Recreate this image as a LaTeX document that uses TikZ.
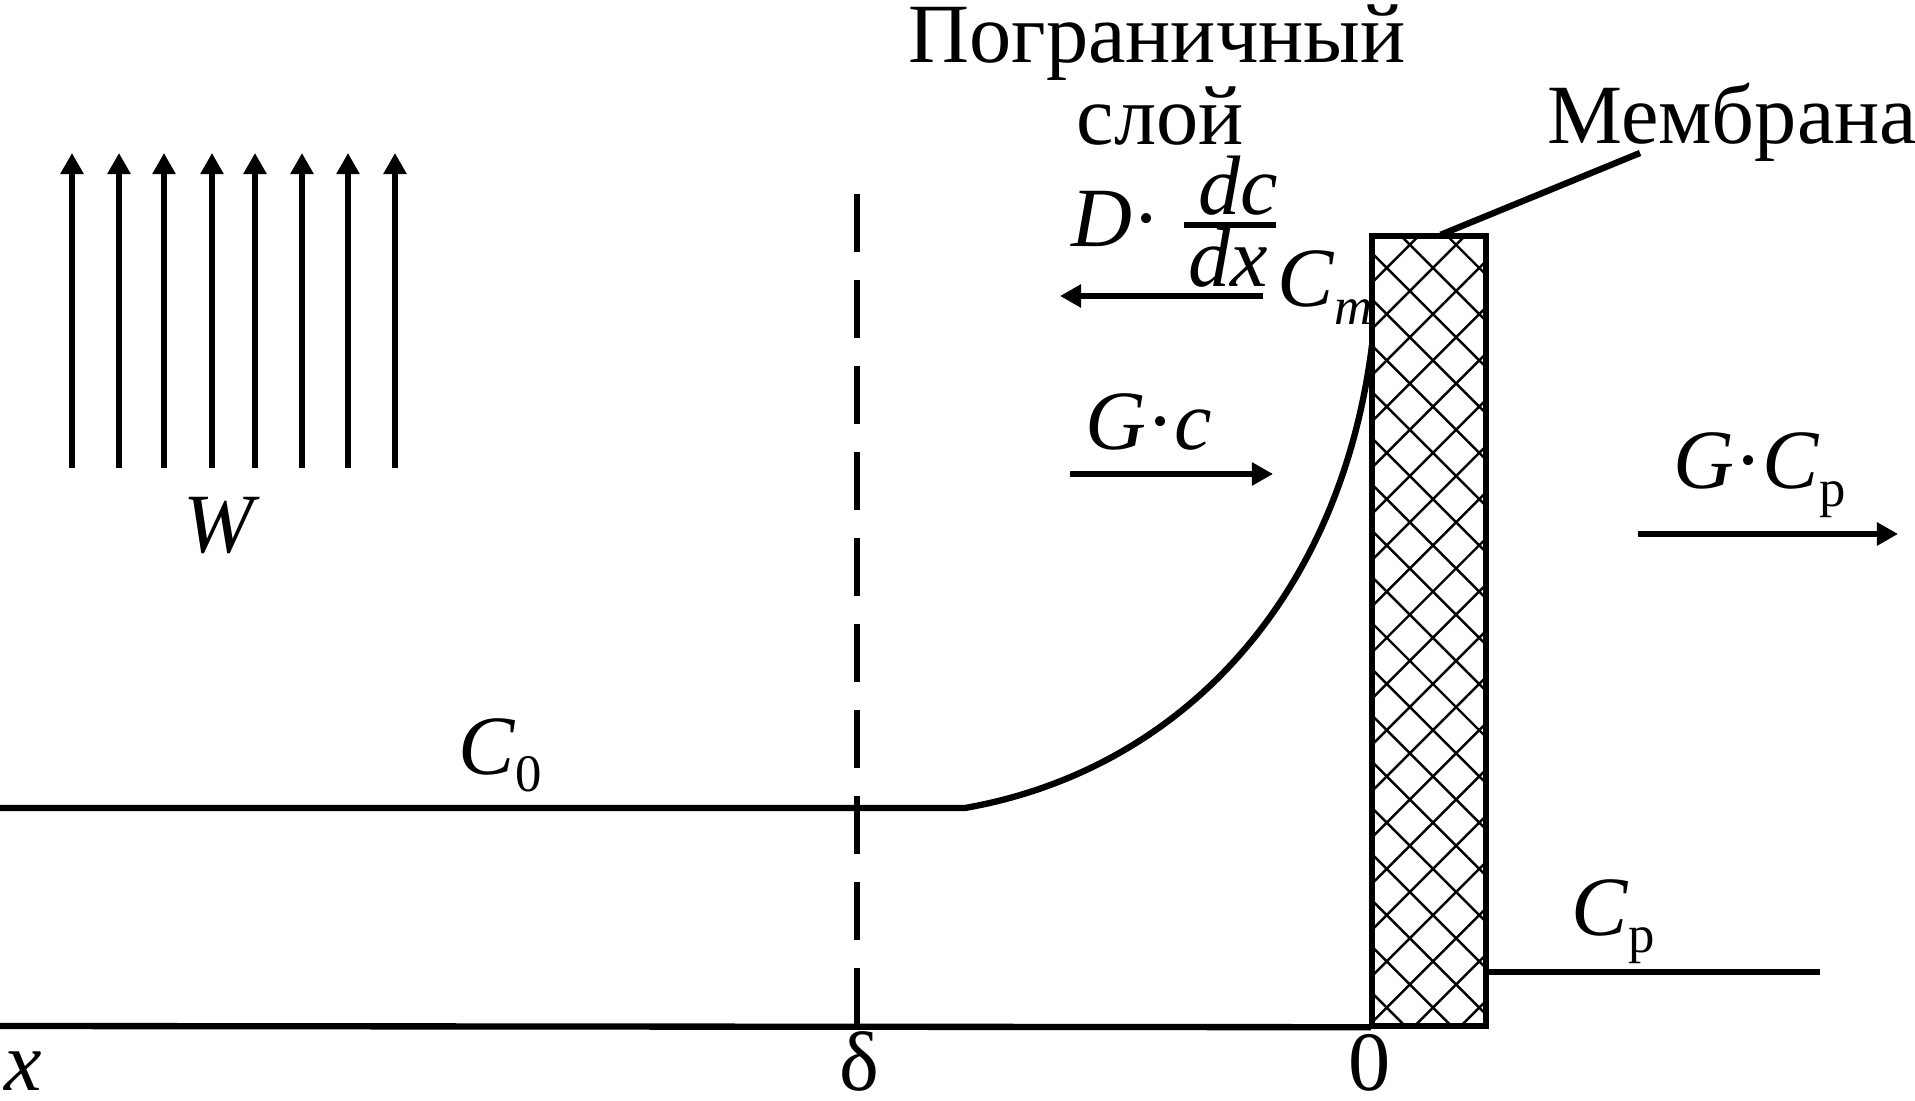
\documentclass[tikz,border=0pt]{standalone}
\usepackage{fontspec}
\setmainfont{Liberation Serif}
\usetikzlibrary{arrows.meta,patterns.meta,calc}
\newcommand{\lowsub}[1]{\raisebox{-5pt}{\fontsize{15}{18}\selectfont #1}}

\begin{document}
\begin{tikzpicture}[>={Triangle[length=6pt,width=6.3pt]}, line width=1.8pt]
\tikzstyle{txt} = [inner sep=0pt, font=\fontsize{24}{28}\selectfont]
\tikzstyle{wall} = [draw, rectangle, inner sep=0pt, minimum width=1.14cm, minimum height=7.9cm, pattern={Hatch[angle=45,distance=9.3pt,line width=0.7pt]}]
\tikzstyle{bound} = [dash pattern=on 0.58cm off 0.28cm]
\tikzstyle{flow} = [->, line width=1.6pt]

\useasboundingbox (0,0) rectangle (19.15,11);

% membrane and concentration profile
\node[wall] (membrane) at (14.29,4.69) {};
\coordinate (xaxis) at (0,0.74);
\coordinate (c0a) at (0,2.92);
\coordinate (c0b) at (9.65,2.92);
\coordinate (cmtop) at (13.72,7.55);
\coordinate (cpend) at (18.20,1.28);
\draw (xaxis) -- (membrane.south west);
\draw (c0a) -- (c0b) .. controls (11.80,3.30) and (13.40,5.00) .. (cmtop);
\draw (membrane.east |- cpend) -- (cpend);

% boundary layer edge
\coordinate (dbot) at (8.57,0.74);
\coordinate (dtop) at (8.57,9.17);
\draw[bound] (dbot) -- (dtop);

% velocity W
\coordinate (w1b) at (0.72,6.32); \coordinate (w1t) at (0.72,9.47);
\coordinate (w2b) at (1.19,6.32); \coordinate (w2t) at (1.19,9.47);
\coordinate (w3b) at (1.64,6.32); \coordinate (w3t) at (1.64,9.47);
\coordinate (w4b) at (2.12,6.32); \coordinate (w4t) at (2.12,9.47);
\coordinate (w5b) at (2.55,6.32); \coordinate (w5t) at (2.55,9.47);
\coordinate (w6b) at (3.02,6.32); \coordinate (w6t) at (3.02,9.47);
\coordinate (w7b) at (3.48,6.32); \coordinate (w7t) at (3.48,9.47);
\coordinate (w8b) at (3.95,6.32); \coordinate (w8t) at (3.95,9.47);
\draw[flow] (w1b) -- (w1t);
\draw[flow] (w2b) -- (w2t);
\draw[flow] (w3b) -- (w3t);
\draw[flow] (w4b) -- (w4t);
\draw[flow] (w5b) -- (w5t);
\draw[flow] (w6b) -- (w6t);
\draw[flow] (w7b) -- (w7t);
\draw[flow] (w8b) -- (w8t);
\node[txt, anchor=base] (wlbl) at (2.22,5.47) {\textit{W}};

% fluxes
\coordinate (dfr) at (12.63,8.04);
\coordinate (dfl) at (10.60,8.04);
\draw[flow] (dfr) -- (dfl);
\coordinate (gcl) at (10.70,6.26);
\coordinate (gcr) at (12.73,6.26);
\draw[flow] (gcl) -- (gcr);
\coordinate (gpl) at (16.38,5.66);
\coordinate (gpr) at (18.98,5.66);
\draw[flow] (gpl) -- (gpr);

\node[txt, anchor=base west] (dlbl) at (10.68,8.53) {\textit{D}·};
\node[txt, anchor=base] (num) at (12.38,8.85) {\textit{dc}};
\node[txt, anchor=base] (den) at (12.28,8.13) {\textit{dx}};
\coordinate (barl) at (11.84,8.75);
\coordinate (barr) at (12.76,8.75);
\draw (barl) -- (barr);
\node[txt, anchor=base west] (cm) at (12.74,7.93) {\textit{C}\lowsub{\textit{m}}};
\node[txt, anchor=base west] (gc) at (10.82,6.50) {\textit{G}·\textit{c}};
\node[txt, anchor=base west] (gcp) at (16.70,6.11) {\textit{G}·\textit{C}\lowsub{р}};

% labels
\node[txt, anchor=base] (layer1) at (11.57,10.37) {Пограничный};
\node[txt, anchor=base] (layer2) at (11.60,9.55) {слой};
\node[txt, anchor=base west] (memlbl) at (15.44,9.56) {Мембрана};
\coordinate (lead) at (16.40,9.47);
\draw ($(membrane.north west)!0.6!(membrane.north east)$) -- (lead);
\node[txt, anchor=base west] (c0) at (4.55,3.26) {\textit{C}\lowsub{0}};
\node[txt, anchor=base west] (cp) at (15.68,1.65) {\textit{C}\lowsub{р}};
\node[txt, anchor=base west] (xlbl) at (0.01,0.10) {\textit{x}};
\node[txt, anchor=base] (dlt) at (8.59,0.10) {δ};
\node[txt, anchor=base] (zero) at (13.70,0.10) {0};
\end{tikzpicture}
\end{document}
